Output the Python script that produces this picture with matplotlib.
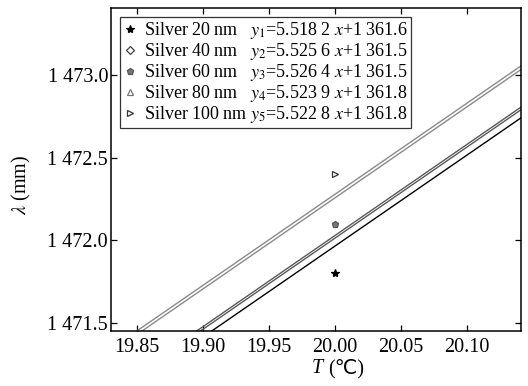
import matplotlib
matplotlib.use("Agg")
import matplotlib.pyplot as plt
import numpy as np
from matplotlib.lines import Line2D
from matplotlib.ticker import FuncFormatter

plt.rcParams["font.family"] = ["Liberation Serif", "DejaVu Sans"]
plt.rcParams["mathtext.fontset"] = "stix"

# fitted lines y = k*x + b
names = ["Silver 20 nm", "Silver 40 nm", "Silver 60 nm", "Silver 80 nm", "Silver 100 nm"]
slopes = [5.5182, 5.5256, 5.5264, 5.5239, 5.5228]
intercepts = [1361.6, 1361.5, 1361.5, 1361.8, 1361.8]
slope_txt = ["5.518 2", "5.525 6", "5.526 4", "5.523 9", "5.522 8"]
icpt_txt = ["1 361.6", "1 361.5", "1 361.5", "1 361.8", "1 361.8"]
gaps = ["   ", "   ", "   ", "   ", " "]

# measured points (only three are visible)
pt_T = [20.0, 20.0, 20.0]
pt_lam = [1471.8, 1472.1, 1472.4]
pt_idx = [0, 2, 4]

line_colors = ["black", "#5a5a5a", "#5a5a5a", "#8a8a8a", "#8a8a8a"]
markers = ["*", "D", "p", "^", ">"]
mfc = ["black", "white", "#777777", "white", "white"]
mec = ["black", "#444444", "#555555", "#777777", "#333333"]
msize = [6, 4, 5, 5, 5]

fig = plt.figure(figsize=(5.28, 3.86), dpi=100)
ax = fig.add_axes([0.210, 0.1425, 0.777, 0.838])

xs = np.array([19.80, 20.20])
for k, b, c in zip(slopes, intercepts, line_colors):
    ax.plot(xs, k * xs + b, color=c, lw=1.0)

for t, lam, i in zip(pt_T, pt_lam, pt_idx):
    ax.plot(t, lam, linestyle="none", marker=markers[i], ms=msize[i],
            mfc=mfc[i], mec=mec[i], mew=0.9)

ax.set_xlim(19.8305, 20.141)
ax.set_ylim(1471.45, 1473.41)
ax.set_xticks([19.85, 19.90, 19.95, 20.00, 20.05, 20.10])
ax.set_yticks([1471.5, 1472.0, 1472.5, 1473.0])
ax.xaxis.set_major_formatter(FuncFormatter(lambda v, p: f"{v:.2f}"))


def thousands(v, p):
    s = f"{v:.1f}"
    whole, frac = s.split(".")
    return f"{whole[:-3]} {whole[-3:]}.{frac}"


ax.yaxis.set_major_formatter(FuncFormatter(thousands))
ax.tick_params(direction="in", top=True, right=True, length=4, width=0.9,
               labelsize=14.5)
ax.tick_params(axis="x", pad=5)
ax.tick_params(axis="y", pad=2)
for sp in ax.spines.values():
    sp.set_linewidth(1.1)

fig.text(323 / 528, 1 - 373 / 386, "T", fontsize=14.5, fontstyle="italic",
         ha="right", va="baseline")
fig.text(328 / 528, 1 - 373 / 386, "(℃)", fontsize=14.5, ha="left", va="baseline")
ax.set_ylabel(r"$\lambda$ (mm)", fontsize=14.5)
ax.yaxis.set_label_coords(-0.19, 0.451)

handles = []
labels = []
for i in range(5):
    handles.append(Line2D([], [], linestyle="none", marker=markers[i], ms=msize[i],
                          mfc=mfc[i], mec=mec[i], mew=0.9))
    labels.append(f"{names[i]}{gaps[i]}$y_{i + 1}$={slope_txt[i]} $x$+{icpt_txt[i]}")

leg = ax.legend(handles, labels, loc="upper left", bbox_to_anchor=(0.022, 0.97),
                fontsize=13, frameon=True, fancybox=False, edgecolor="black",
                handlelength=0.8, handletextpad=0.4, borderpad=0.15,
                labelspacing=0.0, borderaxespad=0)
leg.get_frame().set_linewidth(0.9)

fig.savefig("out.png", dpi=100)
